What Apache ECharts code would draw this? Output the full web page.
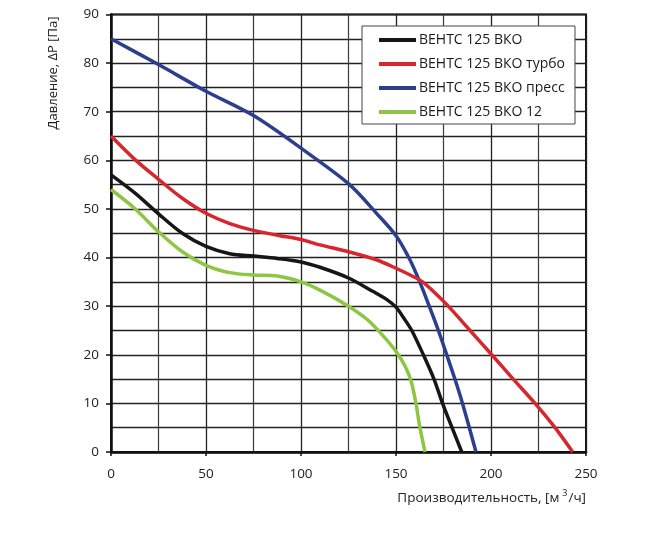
<!DOCTYPE html>
<html><head><meta charset="utf-8">
<script src="https://cdn.jsdelivr.net/npm/echarts@6/dist/echarts.min.js"></script>
<style>html,body{margin:0;padding:0;background:#fff}#c{width:652px;height:533px}</style>
</head><body><div id="c"></div>
<script>
const seriesNames = ['ВЕНТС 125 ВКО', 'ВЕНТС 125 ВКО турбо', 'ВЕНТС 125 ВКО пресс', 'ВЕНТС 125 ВКО 12'];
const blackX = [0,12.5,25,37.5,50,62.5,75,87.5,100,110,125,138,145,150,154,158.3,164.4,170,174.5,179.5,184.6];
const blackY = [57,53.3,49,45,42.3,40.8,40.3,39.8,39.1,38,35.8,33,31.4,29.8,27.6,25,20,15,10,5,0];
const redX = [0,12.5,25,37.5,50,62.5,75,87.5,100,110,125,140,150,158,164,170,177.5,189,200.4,211.7,223.2,233.7,243];
const redY = [65,60.2,56.1,52.2,49.1,47,45.6,44.6,43.7,42.6,41.2,39.5,37.8,36.3,35,32.9,30,25,20,15,10,5,0];
const blueX = [0,25,50,75,100,125,140,150,157,162.5,167.5,172.3,176.7,181,185,188.6,192.1];
const blueY = [85,79.7,74.2,69.2,62.5,55.2,49,44.5,39.8,35,30,25,20,15,10,5,0];
const greenX = [0,12.5,25,37.5,50,62.5,75,87.5,100,110,125,135,143,150,155,158,160.5,162.6,165.3];
const greenY = [54,50.1,45.3,41.2,38.4,36.9,36.4,36.2,35,33.3,30,27.2,24,20.7,17.5,14.5,10,5,0];
const colors = ['#161616', '#d7262e', '#2c3e8e', '#8dc641'];
const xTicks = [0, 50, 100, 150, 200, 250];
const yTicks = [0, 10, 20, 30, 40, 50, 60, 70, 80, 90];
const yName = 'Давление, ΔP [Па]';
const xName = 'Производительность, [м{s|3}/ч]';

const xs = [blackX, redX, blueX, greenX];
const ys = [blackY, redY, blueY, greenY];
const FONT = 'Open Sans';

const chart = echarts.init(document.getElementById('c'), null, {renderer: 'canvas'});
chart.setOption({
  animation: false,
  backgroundColor: '#fff',
  grid: {left: 111, right: 66, top: 14.5, bottom: 81, show: true, borderColor: '#111', borderWidth: 2, backgroundColor: 'transparent'},
  xAxis: {
    type: 'value', min: xTicks[0], max: xTicks[xTicks.length - 1], interval: 50,
    axisLine: {show: true, lineStyle: {color: '#111', width: 2.5}},
    axisTick: {show: true, length: 4, lineStyle: {color: '#111', width: 1.5}},
    minorTick: {show: false, splitNumber: 2},
    minorSplitLine: {show: true, lineStyle: {color: '#3a3a3a', width: 1.2}},
    splitLine: {show: true, lineStyle: {color: '#222', width: 1.3}},
    axisLabel: {color: '#222', fontFamily: FONT, fontSize: 13.5, margin: 15}
  },
  yAxis: {
    type: 'value', min: yTicks[0], max: yTicks[yTicks.length - 1], interval: 10,
    axisLine: {show: true, lineStyle: {color: '#111', width: 2.5}},
    axisTick: {show: true, length: 5, lineStyle: {color: '#111', width: 1.5}},
    minorTick: {show: false, splitNumber: 2},
    minorSplitLine: {show: true, lineStyle: {color: '#222', width: 1.3}},
    splitLine: {show: true, lineStyle: {color: '#222', width: 1.3}},
    axisLabel: {color: '#222', fontFamily: FONT, fontSize: 13.5, margin: 12}
  },
  legend: {
    orient: 'vertical', left: 362, top: 26,
    padding: [6, 10, 4, 17], itemGap: 8,
    itemWidth: 37, itemHeight: 4, icon: 'rect',
    backgroundColor: '#fff', borderColor: '#444', borderWidth: 1,
    textStyle: {color: '#1a1a1a', fontFamily: FONT, fontSize: 14, lineHeight: 16, padding: [0, 0, 0, -2]},
    data: seriesNames
  },
  graphic: [
    {type: 'text', x: 53, y: 73, rotation: Math.PI / 2,
     style: {text: yName, fill: '#222', font: '13px "' + FONT + '"', align: 'center', verticalAlign: 'middle'}},
    {type: 'text', x: 586, y: 498,
     style: {text: xName, fill: '#222', font: '13.5px "' + FONT + '"', align: 'right', verticalAlign: 'middle',
       rich: {s: {fontSize: 9, verticalAlign: 'top', padding: [0, 1, 9, 3], fontFamily: FONT, fill: '#222'}}}}
  ],
  series: seriesNames.map((n, i) => ({
    name: n, type: 'line', symbol: 'none', smooth: 0.3, z: 10 - i,
    lineStyle: {color: colors[i], width: 3.5},
    itemStyle: {color: colors[i]},
    data: xs[i].map((x, k) => [x, ys[i][k]])
  }))
});
</script></body></html>
